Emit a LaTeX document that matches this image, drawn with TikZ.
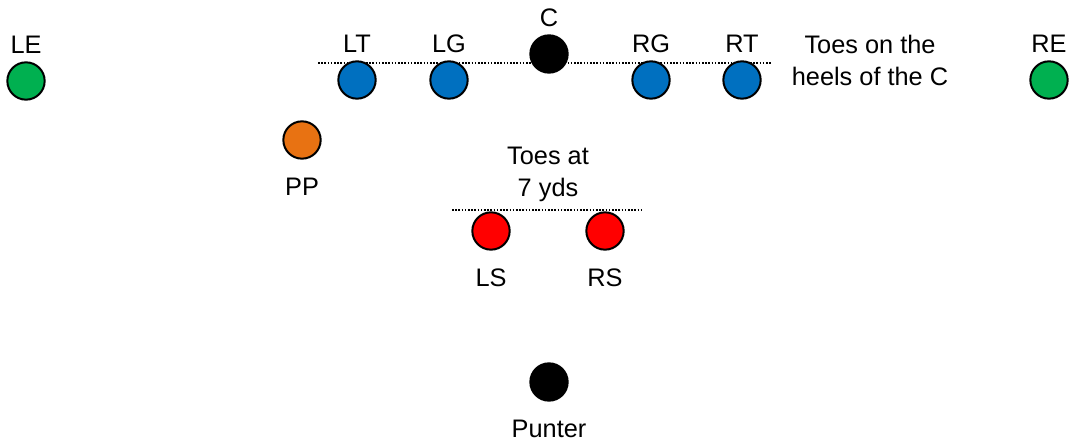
\documentclass[tikz,border=0pt]{standalone}
\usepackage{fontspec}
\setmainfont{Liberation Sans}
\usetikzlibrary{positioning}

\definecolor{endgreen}{HTML}{00B050}
\definecolor{lineblue}{HTML}{0070C0}
\definecolor{protorange}{RGB}{232,114,18}
\definecolor{safetyred}{HTML}{FF0000}

\def\playerSize{28pt}
\def\playerRim{1.5pt}
\def\tagAbove{5.5pt}
\def\tagBelow{13pt}

\tikzset{
  player/.style={circle, draw=black, line width=\playerRim,
    minimum size=\playerSize, inner sep=0pt},
  tag/.style={font=\fontsize{19pt}{24pt}\selectfont, inner sep=0pt,
    text height=13.6pt, text depth=0pt},
  note/.style={font=\fontsize{19pt}{24pt}\selectfont, align=center,
    inner sep=0pt},
  toeline/.style={line width=1pt, dash pattern=on 1.2pt off 1.2pt},
}

\begin{document}
\begin{tikzpicture}[x=0.75pt, y=-0.75pt]
  \useasboundingbox (0,0) rectangle (1069,441);
  %% toe lines
  \coordinate (los-l) at (318,63);
  \coordinate (los-r) at (772,63);
  \coordinate (sft-l) at (452,210);
  \coordinate (sft-r) at (642,210);
  \draw [toeline] (los-l) -- (los-r);
  \draw [toeline] (sft-l) -- (sft-r);
  %% line
  \node [player, fill=endgreen] (le) at (26,81) {};
  \node [player, fill=lineblue] (lt) at (357,80) {};
  \node [player, fill=lineblue] (lg) at (449,80) {};
  \node [player, fill=black] (c) at (549,54) {};
  \node [player, fill=lineblue] (rg) at (651,80) {};
  \node [player, fill=lineblue] (rt) at (742,80) {};
  \node [player, fill=endgreen] (re) at (1049,80) {};
  %% backs
  \node [player, fill=protorange] (pp) at (302,140) {};
  \node [player, fill=safetyred] (ls) at (491,231) {};
  \node [player, fill=safetyred] (rs) at (605,231) {};
  \node [player, fill=black] (punter) at (549,382) {};
  %% tags
  \node [tag, above=\tagAbove of le] (le-tag) {LE};
  \node [tag, above=\tagAbove of lt] (lt-tag) {LT};
  \node [tag, above=\tagAbove of lg] (lg-tag) {LG};
  \node [tag, above=\tagAbove of c] (c-tag) {C};
  \node [tag, above=\tagAbove of rg] (rg-tag) {RG};
  \node [tag, above=\tagAbove of rt] (rt-tag) {RT};
  \node [tag, above=\tagAbove of re] (re-tag) {RE};
  \node [tag, below=\tagBelow of pp] (pp-tag) {PP};
  \node [tag, below=\tagBelow of ls] (ls-tag) {LS};
  \node [tag, below=\tagBelow of rs] (rs-tag) {RS};
  \node [tag, below=\tagBelow of punter] (punter-tag) {Punter};
  %% notes
  \node [note] (los-note) at (870,60) {Toes on the\\heels of the C};
  \node [note] (sft-note) at (548,174) {Toes at\\7 yds};
\end{tikzpicture}
\end{document}
